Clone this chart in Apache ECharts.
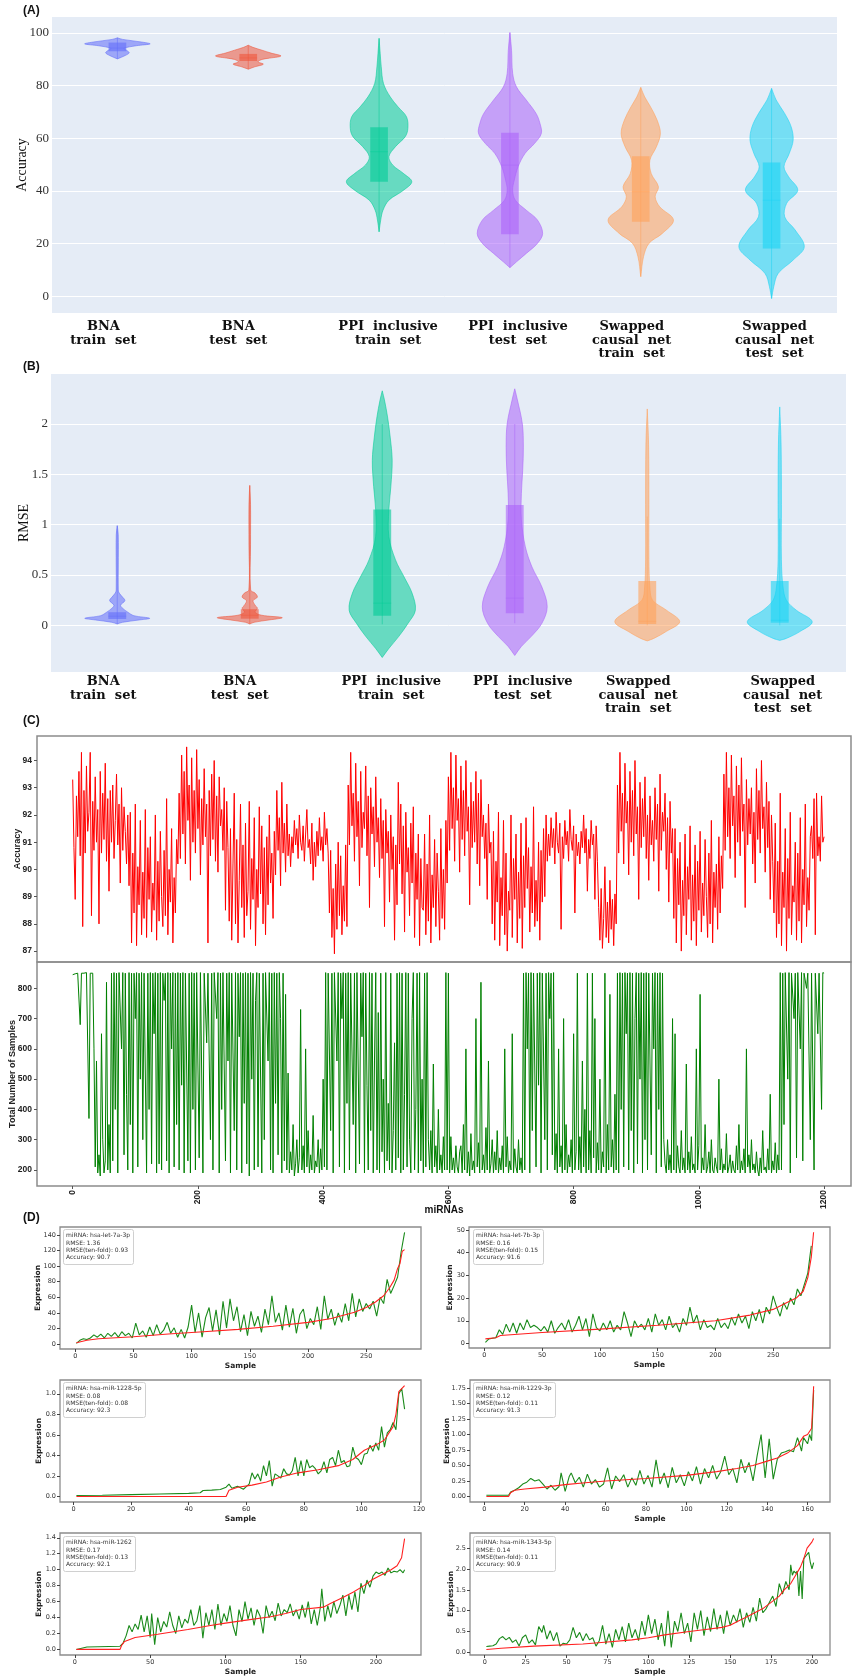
<!DOCTYPE html>
<html><head><meta charset="utf-8">
<script src="https://cdn.jsdelivr.net/npm/echarts@6/dist/echarts.min.js"></script>
<style>html,body{margin:0;padding:0;background:#fff}#chart{width:852px;height:1680px}</style>
</head><body><div id="chart"></div><script>
// ---------------- DATA ----------------
const groupLabels = ['BNA\ntrain  set','BNA\ntest  set','PPI  inclusive\ntrain  set','PPI  inclusive\ntest  set','Swapped\ncausal  net\ntrain  set','Swapped\ncausal  net\ntest  set'];

// Panel A violin density profiles: [accuracy, relative half width]
const accBNATrain = [[98.1,0],[97.5,0.08],[96.5,0.37],[95.8,0.50],[95.1,0.29],[94.1,0.10],[93.2,0.15],[92.4,0.18],[91.4,0.12],[90.1,0]];
const accBNATest = [[95.3,0],[94.5,0.07],[93.4,0.21],[92.3,0.35],[91.2,0.5],[90.3,0.3],[89.9,0.21],[89.0,0.15],[88.1,0.23],[87.1,0.1],[86.2,0]];
const accPPITrain = [[97.9,0],[92.2,0.017],[87.1,0.033],[80.8,0.067],[75.7,0.17],[71.9,0.29],[68.1,0.42],[63.7,0.44],[60.6,0.40],[56.8,0.25],[53,0.15],[49.8,0.21],[46.6,0.375],[43.5,0.5],[40.3,0.375],[36.5,0.15],[32.7,0.06],[29,0.025],[24.5,0]];
const accPPITest = [[100.1,0],[93.4,0.025],[84.6,0.042],[79.5,0.1],[74.5,0.25],[69.4,0.4],[65.6,0.46],[61.8,0.48],[58,0.375],[54.2,0.23],[49.2,0.125],[44.1,0.067],[40.3,0.042],[36.5,0.083],[32.7,0.25],[29,0.42],[23.9,0.5],[20.1,0.42],[16.3,0.25],[13.1,0.1],[10.9,0]];
const accSwTrain = [[79.3,0],[75.7,0.06],[71.9,0.15],[66.9,0.25],[61.8,0.3],[56.8,0.24],[51.7,0.14],[46.6,0.16],[41.6,0.27],[37.8,0.22],[34,0.29],[29,0.5],[23.9,0.33],[20.1,0.125],[15,0.042],[7.5,0]];
const accSwTest = [[78.9,0],[74.5,0.07],[69.4,0.2],[64.3,0.3],[59.3,0.33],[54.2,0.27],[49.2,0.19],[45.4,0.26],[40.3,0.4],[35.3,0.23],[30.2,0.2],[25.2,0.36],[18.8,0.5],[13.8,0.33],[8.7,0.1],[3.7,0.033],[-0.8,0]];
// [lower whisker, q1, median, q3, upper whisker]
const accBoxes = [[90.1,93.0,94.2,96.3,98.1],[86.2,89.3,90.5,92.0,95.3],[24.5,43.5,54.9,64.2,97.9],[10.9,23.6,49.8,62.1,100.1],[7.5,28.3,39.7,53.2,79.3],[-0.8,18.2,36.5,50.8,78.9]];

// Panel B violin density profiles: [RMSE, relative half width]
const rmseBNATrain = [[0.99,0],[0.9,0.015],[0.6,0.016],[0.35,0.016],[0.32,0.03],[0.28,0.08],[0.245,0.115],[0.2,0.05],[0.17,0.08],[0.13,0.16],[0.096,0.25],[0.07,0.49],[0.053,0.33],[0.03,0.08],[0.013,0]];
const rmseBNATest = [[1.39,0],[1.2,0.012],[0.8,0.012],[0.35,0.014],[0.32,0.08],[0.28,0.115],[0.245,0.05],[0.2,0.08],[0.17,0.115],[0.13,0.08],[0.1,0.18],[0.076,0.49],[0.053,0.29],[0.03,0.065],[0.013,0]];
const rmsePPITrain = [[2.33,0],[2.24,0.033],[2.07,0.08],[1.87,0.12],[1.64,0.15],[1.38,0.13],[1.15,0.1],[0.88,0.1],[0.65,0.2],[0.48,0.33],[0.32,0.45],[0.15,0.5],[0.02,0.39],[-0.11,0.25],[-0.23,0.1],[-0.32,0]];
const rmsePPITest = [[2.35,0],[2.24,0.04],[2.0,0.115],[1.77,0.13],[1.54,0.12],[1.31,0.1],[1.05,0.1],[0.78,0.16],[0.58,0.26],[0.38,0.41],[0.185,0.49],[0.02,0.41],[-0.11,0.25],[-0.21,0.1],[-0.30,0]];
const rmseSwTrain = [[2.15,0],[1.8,0.02],[1.2,0.025],[0.65,0.025],[0.38,0.04],[0.25,0.08],[0.15,0.29],[0.036,0.49],[-0.06,0.29],[-0.13,0.1],[-0.155,0]];
const rmseSwTest = [[2.17,0],[1.8,0.02],[1.2,0.025],[0.65,0.025],[0.38,0.05],[0.25,0.1],[0.15,0.25],[0.036,0.49],[-0.06,0.31],[-0.13,0.1],[-0.15,0]];
const rmseBoxes = [[0.013,0.063,0.09,0.13,0.99],[0.015,0.066,0.1,0.16,1.39],[0.01,0.096,0.22,1.15,2.0],[0.02,0.12,0.27,1.195,2.0],[0.0,0.013,0.04,0.44,1.08],[0.0,0.026,0.05,0.44,1.06]];

const accTicks = [0,20,40,60,80,100];
const rmseTicks = [0,0.5,1,1.5,2];

// Panel C: every 2nd miRNA (index 0..1200)
const stepC = 2;
const accuracyC = [
93.3,90.8,88.9,92.7,91.2,93.6,90.5,94.3,87.9,92.9,
90.6,93.8,91.4,92.1,94.3,88.3,92.5,90.7,93.4,91.0,
92.2,88.0,93.6,90.6,92.8,91.1,93.9,90.3,92.6,89.2,
92.9,91.0,93.1,90.4,91.8,93.5,90.9,92.4,89.5,93.0,
90.7,92.3,91.4,90.2,92.0,
89.4,92.1,87.3,90.6,88.4,92.4,87.2,90.1,88.7,91.8,
87.6,89.9,88.2,92.2,87.5,90.8,88.9,91.2,87.7,89.5,
88.5,92.0,87.4,90.3,88.1,91.4,89.0,87.9,90.7,88.3,
92.6,87.6,90.0,88.8,91.5,87.3,89.7,88.4,91.1,90.2,
92.8,90.4,94.2,91.3,93.6,90.2,94.5,91.8,93.1,89.6,
94.1,91.0,92.9,90.6,94.4,91.5,93.3,89.8,92.6,90.9,
93.7,91.2,92.4,87.3,92.9,90.5,93.5,91.1,94.0,90.3,
92.7,89.9,93.4,91.6,92.2,90.7,93.0,88.5,92.5,90.8,
88.1,91.5,87.4,90.2,92.8,88.0,91.1,87.3,89.6,92.4,
88.6,90.9,87.5,91.7,88.3,89.2,92.5,87.8,90.4,88.9,
91.9,87.2,90.0,88.6,92.3,89.1,91.6,88.0,90.8,87.6,
91.2,88.7,92.0,89.5,90.6,88.2,91.4,89.8,92.9,90.7,
91.9,89.4,93.2,90.6,91.7,89.9,92.4,90.5,91.3,90.1,
91.2,90.6,91.8,90.9,91.5,90.4,92.0,91.0,90.7,91.6,
90.3,91.3,92.2,90.8,91.1,90.2,91.7,89.6,91.0,90.1,
91.4,90.5,91.9,90.7,91.2,90.3,92.1,90.9,91.5,90.6,
88.4,90.7,87.5,89.3,86.9,90.2,87.8,91.0,88.3,90.5,
87.6,89.4,88.1,90.9,87.9,
93.1,90.9,94.3,91.6,92.8,90.3,93.9,91.2,92.5,89.4,
93.6,90.8,92.1,91.5,93.8,90.5,92.7,88.6,93.0,91.3,
92.3,90.1,93.4,91.0,91.9,89.7,92.6,90.4,91.8,87.9,
92.2,90.6,91.4,88.8,92.0,90.0,91.2,87.4,90.9,88.7,
93.2,90.2,92.4,89.1,91.6,87.7,92.1,89.9,90.8,88.3,
91.7,89.5,92.3,87.5,90.6,88.9,91.3,87.2,90.4,88.6,
88.5,91.3,87.6,90.2,88.1,92.0,87.3,89.8,88.6,91.1,
87.9,90.6,89.2,87.4,91.5,88.2,90.0,87.8,91.8,89.5,
93.4,90.7,94.3,91.5,93.0,90.3,94.2,91.8,92.6,89.9,
93.8,91.1,92.9,90.5,94.0,91.4,92.3,88.7,93.2,90.8,
92.5,91.0,93.6,90.2,92.8,89.4,93.3,91.2,92.0,90.4,
91.7,88.9,92.4,90.6,91.0,
88.0,91.4,87.4,90.3,88.8,92.1,87.2,89.7,88.3,91.8,
87.6,90.6,87.0,89.2,88.5,92.0,87.5,90.4,88.9,91.3,
87.3,89.9,88.2,91.7,87.1,90.5,88.6,91.9,89.3,90.8,
87.7,90.1,88.4,92.3,87.9,89.6,88.1,91.0,87.4,90.7,
88.8,91.5,89.0,92.0,90.3,
91.3,90.5,91.9,90.8,91.5,90.2,92.1,91.0,90.6,91.7,
87.8,91.2,90.4,91.8,90.9,91.4,90.3,92.2,91.1,90.7,
91.6,88.4,91.3,90.5,91.0,90.2,91.4,90.8,92.0,90.6,
91.5,89.2,91.1,90.4,91.8,90.9,91.3,88.9,91.6,90.3,
88.6,87.4,89.3,87.1,88.2,90.1,87.5,88.8,87.3,89.6,
87.8,88.9,87.2,89.1,88.0,
93.1,90.6,94.3,91.4,92.8,90.2,93.9,91.7,92.5,89.8,
93.6,91.0,92.9,90.5,94.0,91.3,92.3,88.9,93.2,90.8,
92.6,91.2,93.4,90.4,92.0,89.6,92.7,90.9,91.8,90.3,
93.0,91.1,92.4,89.2,93.5,90.7,92.1,91.4,92.8,90.0,
91.9,88.8,92.5,90.6,91.5,
88.2,91.5,87.3,90.4,88.7,91.0,87.0,89.6,88.3,91.3,
87.6,90.1,88.9,91.6,87.4,89.8,88.1,90.9,87.2,90.3,
88.5,91.4,87.7,89.5,88.3,91.1,89.0,87.5,90.6,88.0,
91.8,87.3,89.9,88.6,90.2,87.8,91.2,88.4,90.5,89.3,
93.5,90.7,94.3,91.2,93.0,90.4,94.2,91.6,92.7,89.7,
93.8,91.0,93.1,90.5,94.1,91.4,92.4,88.6,93.3,90.9,
92.6,91.3,93.0,90.2,92.1,89.5,93.7,91.1,92.9,90.6,
94.0,91.5,92.3,89.9,93.2,90.8,92.5,88.9,92.0,90.3,
88.4,91.7,87.5,90.3,88.0,92.8,87.2,89.9,88.6,91.5,
87.0,90.4,88.2,92.1,87.6,89.4,88.8,91.0,87.4,90.6,
88.1,91.9,87.3,90.0,88.7,92.4,87.9,89.7,88.5,91.2,
91.6,90.4,92.6,87.6,92.8,90.5,91.2,90.3,92.7,91.0,91.2];
const samplesC = [
845,850,848,852,850,850,680,850,852,850,
848,852,850,370,850,852,850,600,
210,560,190,250,180,650,300,190,230,820,200,350,190,
850,230,852,400,850,190,852,850,600,852,
250,850,450,200,852,350,850,190,850,700,
852,210,850,500,852,300,850,852,190,850,
400,852,220,850,650,852,190,
850,220,852,200,850,760,850,230,852,190,
850,600,852,210,850,350,852,200,850,480,
852,190,850,852,230,850,190,852,400,850,
200,852,
850,240,852,850,190,850,852,620,850,852,
300,850,200,852,850,700,852,190,850,400,
852,850,230,850,560,852,190,850,850,330,
852,200,850,640,852,190,850,420,852,220,
850,180,852,500,850,200,760,852,210,850,
852,190,850,300,852,850,560,852,200,850,
190,852,420,850,250,852,700,190,850,230,
780,200,520,
190,260,200,350,180,220,300,190,240,730,
200,280,190,600,210,330,190,250,200,380,
190,230,210,300,190,270,200,500,210,
852,200,850,852,330,850,190,852,850,560,
852,210,850,700,852,190,850,420,852,200,
850,852,350,850,190,852,
852,220,850,640,852,190,850,480,200,852,
330,850,190,560,852,200,720,190,850,260,
500,190,852,230,420,200,850,190,330,620,
200,850,240,852,190,850,200,450,852,210,
850,300,190,700,852,200,400,850,190,852,
230,500,190,850,210,852,300,
200,330,190,550,210,280,190,400,200,250,190,310,200,
852,200,850,190,310,200,240,190,280,210,190,260,
280,190,350,200,600,190,260,180,320,200,
230,190,700,210,290,190,820,200,250,190,
340,200,560,190,220,300,190,260,200,330,
190,240,200,280,190,600,210,310,190,230,
200,650,190,270,210,190,300,200,240,190,
850,200,852,600,850,190,852,330,850,852,
210,850,480,852,190,850,852,300,850,200,
852,700,850,250,852,
200,320,190,600,210,280,190,700,200,350,
190,250,210,300,190,650,200,260,
850,200,310,190,560,210,400,190,850,200,
330,190,850,240,700,190,290,200,500,190,
260,210,850,190,350,200,780,210,300,190,
450,200,
850,190,852,400,850,210,852,650,850,200,
852,330,850,190,700,852,220,850,500,852,
190,850,300,852,200,850,852,250,850,600,
852,190,850,400,852,210,850,300,
220,190,300,200,250,190,700,200,650,190,
280,210,190,330,200,240,190,550,200,260,
190,310,200,220,190,600,200,280,780,190,
240,200,350,190,210,260,190,300,200,190,
240,210,190,500,200,270,190,220,200,320,
190,210,250,190,230,200,190,280,200,350,
190,230,200,270,190,600,210,250,190,300,
200,220,190,260,200,180,240,190,330,200,
210,190,270,200,450,190,230,200,290,190,
250,200,
852,200,850,350,852,850,500,852,190,850,
852,700,850,240,852,850,600,852,230,850,
852,800,850,852,300,850,852,200,850,852,
650,850,852,400,852,850];
const ticksC = [0,200,400,600,800,1000,1200];
const accTicksC = [87,88,89,90,91,92,93,94];
const sampleTicksC = [200,300,400,500,600,700,800];

// Panel D
const mirnaNames = ['hsa-let-7a-3p','hsa-let-7b-3p','hsa-miR-1228-5p','hsa-miR-1229-3p','hsa-miR-1262','hsa-miR-1343-5p'];
const rmseD = ['1.36','0.16','0.08','0.12','0.17','0.14'];
const rmseTenFoldD = ['0.93','0.15','0.08','0.11','0.13','0.11'];
const accuracyD = ['90.7','91.6','92.3','91.3','92.1','90.9'];
// actual expression, every 3rd sample from sample 1
const stepD = 3;
const let7aActual = [1,5,7,6,8,12,9,13,8,14,10,15,9,16,11,14,8,27,12,17,9,22,11,25,13,18,28,14,21,9,19,8,22,50,15,40,9,34,47,17,44,12,55,21,58,30,48,16,38,11,42,23,36,15,45,25,62,28,40,18,50,22,46,14,38,45,20,33,25,48,19,62,32,45,24,40,28,52,30,65,35,58,42,52,45,55,36,60,52,83,65,75,86,118,143];
const let7aPred = [[1,2],[10,5],[20,7],[50,9.5],[80,13],[110,16],[140,19],[170,23],[200,28],[220,33],[240,41],[250,47],[258,54],[265,62],[270,72],[274,82],[277,97],[279,103],[281,119],[283,121]];
const let7bActual = [0.5,2,2.3,2.5,6,4,8.5,5,9,4.5,9,6,10.5,7,8,7,5.5,7.5,5,10,4.5,7,9,6,10.5,5,8,12,6,11,3,13,7,5.5,9,6,10,5,8,6,14,9,3,10,7,8.5,6,11,5,13,8,10.5,6,12,7,9,5,11,8,16,9,12.5,6,10.5,7,8,6,11,7,9,6.5,11.5,8,13,9,12,6.5,14,10,15,9,16,13,21,16,12,18,15,20,17,24,21,26,31,43];
const let7bPred = [[1,2],[10,2.5],[14,3.5],[50,4.8],[100,6.3],[150,8],[200,10],[230,12.5],[250,15],[262,18],[270,20],[276,23],[280,29],[283,38],[285,49]];
const mir1228Actual = [[1,0.01],[10,0.012],[20,0.018],[30,0.024],[40,0.03],[44,0.036],[45,0.058],[48,0.062],[51,0.068],[53,0.09],[54,0.12],[55,0.08],[56,0.09],[57,0.1],[58,0.085],[59,0.07],[60,0.095],[61,0.12],[62,0.23],[63,0.17],[64,0.22],[65,0.15],[66,0.3],[67,0.2],[68,0.35],[69,0.1],[70,0.22],[71,0.2],[72,0.18],[73,0.27],[74,0.22],[75,0.21],[76,0.25],[77,0.38],[78,0.2],[79,0.35],[80,0.2],[81,0.36],[82,0.28],[83,0.3],[84,0.27],[85,0.22],[86,0.25],[87,0.34],[88,0.23],[89,0.36],[90,0.38],[91,0.3],[92,0.45],[93,0.33],[94,0.35],[95,0.29],[96,0.3],[97,0.48],[98,0.38],[99,0.36],[100,0.31],[101,0.41],[102,0.42],[103,0.5],[104,0.44],[105,0.52],[106,0.45],[107,0.68],[108,0.48],[109,0.62],[110,0.65],[111,0.72],[112,0.65],[113,1.0],[114,1.05],[115,0.85]];
const mir1228Pred = [[1,0],[53,0],[54,0.06],[57,0.09],[62,0.11],[67,0.14],[72,0.19],[78,0.23],[85,0.26],[92,0.3],[97,0.36],[101,0.45],[105,0.5],[108,0.55],[111,0.68],[112,0.8],[113,1.02],[115,1.08]];
const mir1229Actual = [[1,0.02],[12,0.02],[13,0.07],[15,0.1],[17,0.14],[19,0.2],[21,0.23],[23,0.29],[25,0.25],[27,0.27],[29,0.2],[31,0.12],[33,0.18],[35,0.1],[37,0.16],[38,0.38],[40,0.08],[42,0.32],[43,0.38],[45,0.22],[47,0.31],[49,0.15],[51,0.36],[53,0.2],[55,0.27],[57,0.15],[59,0.2],[61,0.46],[63,0.12],[65,0.33],[67,0.24],[69,0.35],[71,0.15],[73,0.3],[75,0.18],[77,0.42],[79,0.2],[81,0.34],[83,0.15],[85,0.59],[87,0.2],[89,0.38],[91,0.14],[93,0.47],[95,0.22],[97,0.35],[99,0.17],[101,0.4],[103,0.25],[105,0.48],[107,0.2],[109,0.45],[111,0.3],[113,0.5],[115,0.28],[117,0.4],[119,0.65],[121,0.35],[123,0.45],[125,0.22],[127,0.6],[129,0.38],[131,0.55],[133,0.25],[135,0.65],[137,1.0],[139,0.3],[141,0.93],[143,0.28],[145,0.6],[147,0.7],[149,0.72],[151,0.75],[153,0.72],[155,0.95],[156,0.85],[157,0.73],[158,0.95],[160,0.85],[161,1.0],[162,0.9],[163,1.72]];
const mir1229Pred = [[1,0],[12,0],[13,0.06],[15,0.1],[20,0.12],[30,0.15],[40,0.19],[50,0.22],[60,0.25],[80,0.29],[100,0.34],[115,0.4],[125,0.45],[133,0.5],[140,0.57],[145,0.62],[150,0.7],[155,0.82],[158,0.97],[160,1.0],[162,1.1],[163,1.78]];
const mir1262Actual = [[1,0],[8,0.03],[30,0.04],[32,0.08],[34,0.17],[36,0.3],[38,0.22],[40,0.32],[42,0.25],[44,0.43],[46,0.22],[48,0.42],[50,0.15],[51,0.45],[53,0.06],[55,0.4],[57,0.22],[59,0.35],[61,0.28],[63,0.47],[65,0.3],[67,0.2],[69,0.42],[71,0.27],[73,0.38],[75,0.33],[77,0.5],[79,0.3],[81,0.36],[83,0.55],[85,0.14],[87,0.46],[89,0.3],[91,0.5],[93,0.25],[95,0.57],[97,0.3],[99,0.45],[101,0.35],[103,0.55],[105,0.3],[107,0.17],[109,0.5],[111,0.35],[113,0.6],[115,0.38],[117,0.52],[119,0.3],[121,0.5],[123,0.42],[125,0.2],[127,0.55],[129,0.4],[131,0.48],[133,0.36],[135,0.58],[137,0.42],[139,0.5],[141,0.46],[143,0.57],[145,0.42],[147,0.5],[149,0.38],[151,0.56],[153,0.4],[155,0.6],[157,0.32],[159,0.5],[161,0.3],[163,0.52],[164,0.76],[166,0.35],[168,0.55],[170,0.4],[172,0.6],[174,0.45],[176,0.55],[178,0.68],[180,0.42],[182,0.68],[184,0.5],[186,0.72],[188,0.47],[190,0.83],[192,0.7],[194,0.87],[196,0.78],[198,0.92],[200,0.97],[202,0.95],[204,0.97],[206,0.93],[208,1.02],[210,0.96],[212,0.98],[214,0.97],[216,1.0],[218,0.96],[219,1.0]];
const mir1262Pred = [[1,0],[30,0],[31,0.05],[33,0.1],[40,0.15],[55,0.19],[75,0.25],[90,0.3],[100,0.33],[115,0.37],[130,0.41],[140,0.45],[150,0.5],[165,0.53],[170,0.58],[178,0.65],[185,0.72],[192,0.8],[198,0.88],[205,0.95],[210,1.0],[214,1.05],[217,1.15],[219,1.39]];
const mir1343Actual = [[1,0.14],[3,0.15],[5,0.16],[7,0.2],[9,0.33],[11,0.38],[13,0.3],[15,0.36],[17,0.24],[19,0.3],[21,0.15],[23,0.35],[25,0.42],[27,0.22],[29,0.3],[31,0.18],[33,0.62],[35,0.48],[36,0.65],[38,0.32],[40,0.52],[42,0.28],[44,0.48],[46,0.15],[48,0.22],[50,0.2],[52,0.3],[54,0.6],[56,0.35],[58,0.48],[60,0.28],[62,0.45],[64,0.3],[66,0.35],[68,0.15],[70,0.28],[72,0.65],[74,0.2],[76,0.45],[78,0.12],[80,0.55],[82,0.3],[84,0.62],[86,0.25],[88,0.7],[90,0.35],[92,0.55],[94,0.28],[96,0.75],[98,0.4],[100,0.9],[102,0.45],[104,0.8],[106,0.3],[108,0.7],[110,0.15],[112,1.0],[114,0.12],[116,0.75],[118,0.5],[120,0.95],[122,0.45],[124,0.7],[126,0.25],[128,0.95],[130,0.55],[132,1.0],[134,0.4],[136,0.85],[138,0.5],[140,1.05],[142,0.55],[144,0.9],[146,0.45],[148,1.0],[150,0.65],[152,0.9],[154,0.72],[156,1.05],[158,0.6],[160,0.95],[162,0.72],[164,1.08],[166,0.75],[168,1.3],[170,0.95],[172,1.05],[174,1.2],[176,1.35],[178,1.1],[180,1.65],[182,1.4],[184,1.7],[186,1.5],[187,2.1],[188,1.85],[189,1.95],[190,1.9],[191,1.95],[192,1.35],[193,1.95],[194,1.28],[195,2.25],[196,2.3],[197,2.35],[198,2.4],[199,2.15],[200,2.0],[201,2.15]];
const mir1343Pred = [[1,0.07],[10,0.1],[30,0.15],[60,0.2],[75,0.25],[90,0.3],[100,0.35],[110,0.42],[125,0.5],[135,0.55],[145,0.6],[150,0.65],[155,0.75],[160,0.85],[165,0.95],[170,1.05],[175,1.2],[180,1.35],[183,1.5],[187,1.65],[190,1.85],[193,2.05],[195,2.25],[197,2.5],[200,2.65],[201,2.73]];
const xTicksD = [[0,50,100,150,200,250],[0,50,100,150,200,250],[0,20,40,60,80,100,120],[0,20,40,60,80,100,120,140,160],[0,50,100,150,200],[0,25,50,75,100,125,150,175,200]];
const yTicksD = [[0,20,40,60,80,100,120,140],[0,10,20,30,40,50],[0,0.2,0.4,0.6,0.8,1.0],[0,0.25,0.5,0.75,1.0,1.25,1.5,1.75],[0,0.2,0.4,0.6,0.8,1.0,1.2,1.4],[0,0.5,1.0,1.5,2.0,2.5]];
const yDecimalsD = [0,0,1,2,1,1];

// ---------------- LAYOUT / STYLE ----------------
const violinColors = ['#636EFA','#EF553B','#00CC96','#AB63FA','#FFA15A','#19D3F3'];
const labelShift = [-14, -10, 9, 8, -9, 3];
const chart = echarts.init(document.getElementById('chart'), null, {renderer: 'canvas'});
const serif = 'Liberation Serif';
const dsans = 'DejaVu Sans';

function violinRenderer(profiles, boxes) {
  return function (params, api) {
    const i = api.value(0);
    const prof = profiles[i];
    const col = violinColors[i];
    const half = api.size([1, 0])[0] / 2;
    const cx = api.coord([i, 0])[0];
    const right = prof.map(p => [cx + p[1] * half, api.coord([i, p[0]])[1]]);
    const left = prof.slice().reverse().map(p => [cx - p[1] * half, api.coord([i, p[0]])[1]]);
    const b = boxes[i];
    const yLo = api.coord([i, b[0]])[1], yQ1 = api.coord([i, b[1]])[1], yMed = api.coord([i, b[2]])[1], yQ3 = api.coord([i, b[3]])[1], yHi = api.coord([i, b[4]])[1];
    const bw = half * 0.27;
    return { type: 'group', children: [
      { type: 'polygon', shape: { points: right.concat(left), smooth: 0.35 }, style: { fill: col, opacity: 0.55, stroke: col, lineWidth: 1 } },
      { type: 'line', shape: { x1: cx, y1: yHi, x2: cx, y2: yLo }, style: { stroke: col, lineWidth: 1, opacity: 0.5 } },
      { type: 'rect', shape: { x: cx - bw / 2, y: yQ3, width: bw, height: yQ1 - yQ3 }, style: { fill: col, opacity: 0.6 } },
      { type: 'line', shape: { x1: cx - bw / 2, y1: yMed, x2: cx + bw / 2, y2: yMed }, style: { stroke: col, lineWidth: 1, opacity: 0.4 } }
    ]};
  };
}

const grids = [
  {left: 52, top: 17, width: 785, height: 296, show: true, backgroundColor: '#E5ECF6', borderWidth: 0},
  {left: 51, top: 374, width: 795, height: 298, show: true, backgroundColor: '#E5ECF6', borderWidth: 0},
  {left: 37, top: 736, width: 814, height: 226, show: true, borderColor: '#8c8c8c', borderWidth: 1.5},
  {left: 37, top: 962, width: 814, height: 224, show: true, borderColor: '#8c8c8c', borderWidth: 1.5},
  {left: 60, top: 1227, width: 361, height: 122, show: true, borderColor: '#8c8c8c', borderWidth: 1.3},
  {left: 469, top: 1227, width: 361, height: 121, show: true, borderColor: '#8c8c8c', borderWidth: 1.3},
  {left: 60, top: 1380, width: 361, height: 122, show: true, borderColor: '#8c8c8c', borderWidth: 1.3},
  {left: 470, top: 1380, width: 360, height: 122, show: true, borderColor: '#8c8c8c', borderWidth: 1.3},
  {left: 60, top: 1533, width: 361, height: 122, show: true, borderColor: '#8c8c8c', borderWidth: 1.3},
  {left: 470, top: 1533, width: 360, height: 122, show: true, borderColor: '#8c8c8c', borderWidth: 1.3}
].map(g => Object.assign({containLabel: false, outerBoundsMode: 'none'}, g));

const catFont = {fontFamily: 'DejaVu Serif', fontWeight: 'bold', fontSize: 13, color: '#111', lineHeight: 13.5};
const catRich = {};
labelShift.forEach((d, i) => { catRich['s' + i] = Object.assign({padding: d < 0 ? [0, -2 * d, 0, 0] : [0, 0, 0, 2 * d]}, catFont); });
const catLabel = m => Object.assign({margin: m, interval: 0, rich: catRich,
  formatter: (v, idx) => v.split('\n').map(line => '{s' + idx + '|' + line + '}').join('\n')}, catFont);
const hiddenLine = () => ({show: true, onZero: false, lineStyle: {color: 'rgba(0,0,0,0)', width: 0}});

const xAxes = [
  {type: 'category', gridIndex: 0, position: 'bottom', data: groupLabels, axisLine: {show: false}, axisTick: {show: false}, axisLabel: catLabel(7), splitLine: {show: false}},
  {type: 'category', gridIndex: 1, position: 'bottom', data: groupLabels, axisLine: {show: false}, axisTick: {show: false}, axisLabel: catLabel(3), splitLine: {show: false}},
  {type: 'value', gridIndex: 2, position: 'bottom', min: -57, max: 1243, axisLine: hiddenLine(), axisTick: {show: false}, axisLabel: {show: false}, splitLine: {show: false}},
  {type: 'value', gridIndex: 3, position: 'bottom', min: -57, max: 1243, axisLine: hiddenLine(),
   axisTick: {show: true, customValues: ticksC, length: 3, lineStyle: {color: '#555'}},
   axisLabel: {customValues: ticksC, rotate: 90, margin: 4, fontFamily: 'Liberation Sans', fontWeight: 'bold', fontSize: 8.5, color: '#222', formatter: v => String(v)},
   splitLine: {show: false}, name: 'miRNAs', nameLocation: 'middle', nameGap: 19, nameMoveOverlap: false,
   nameTextStyle: {fontFamily: 'Liberation Sans', fontWeight: 'bold', fontSize: 10, color: '#111'}}
];
const yAxes = [
  {type: 'value', gridIndex: 0, position: 'left', min: -6.3, max: 106, axisLine: {show: false},
   axisTick: {show: false, customValues: accTicks}, axisLabel: {customValues: accTicks, margin: 3, fontFamily: serif, fontSize: 13, color: '#333'},
   splitLine: {show: true, lineStyle: {color: '#ffffff', width: 1}},
   name: 'Accuracy', nameLocation: 'middle', nameGap: 23, nameMoveOverlap: false, nameTextStyle: {fontFamily: serif, fontSize: 14, color: '#111'}},
  {type: 'value', gridIndex: 1, position: 'left', min: -0.464, max: 2.497, axisLine: {show: false},
   axisTick: {show: false, customValues: rmseTicks}, axisLabel: {customValues: rmseTicks, margin: 3, fontFamily: serif, fontSize: 13, color: '#333'},
   splitLine: {show: true, lineStyle: {color: '#ffffff', width: 1}},
   name: 'RMSE', nameLocation: 'middle', nameGap: 20, nameMoveOverlap: false, nameTextStyle: {fontFamily: serif, fontSize: 14, color: '#111'}},
  {type: 'value', gridIndex: 2, position: 'left', min: 86.6, max: 94.9, axisLine: hiddenLine(),
   axisTick: {show: true, customValues: accTicksC, length: 3, lineStyle: {color: '#555'}},
   axisLabel: {customValues: accTicksC, margin: 5, fontFamily: 'Liberation Sans', fontWeight: 'bold', fontSize: 8.5, color: '#222'},
   splitLine: {show: false}, name: 'Accuracy', nameLocation: 'middle', nameGap: 15, nameMoveOverlap: false,
   nameTextStyle: {fontFamily: 'Liberation Sans', fontWeight: 'bold', fontSize: 9, color: '#222'}},
  {type: 'value', gridIndex: 3, position: 'left', min: 147, max: 887, axisLine: hiddenLine(),
   axisTick: {show: true, customValues: sampleTicksC, length: 3, lineStyle: {color: '#555'}},
   axisLabel: {customValues: sampleTicksC, margin: 5, fontFamily: 'Liberation Sans', fontWeight: 'bold', fontSize: 8.5, color: '#222'},
   splitLine: {show: false}, name: 'Total Number of Samples', nameLocation: 'middle', nameGap: 20, nameMoveOverlap: false,
   nameTextStyle: {fontFamily: 'Liberation Sans', fontWeight: 'bold', fontSize: 9, color: '#222'}}
];

const dXRanges = [[-13.1, 297.1],[-13.2, 299.2],[-4.7, 120.7],[-7.1, 171.1],[-9.9, 229.9],[-9, 211]];
const dYRanges = [[-6.1, 150],[-2, 51.3],[-0.054, 1.134],[-0.09, 1.88],[-0.07, 1.46],[-0.063, 2.863]];
const dNameGap = [18, 15, 17, 19, 17, 15];
const dActual = [
  let7aActual.map((v, i) => [1 + i * stepD, v]),
  let7bActual.map((v, i) => [1 + i * stepD, v]),
  mir1228Actual, mir1229Actual, mir1262Actual, mir1343Actual];
const dPred = [let7aPred, let7bPred, mir1228Pred, mir1229Pred, mir1262Pred, mir1343Pred];

for (let k = 0; k < 6; k++) {
  const g = 4 + k;
  const dec = yDecimalsD[k];
  xAxes.push({type: 'value', gridIndex: g, position: 'bottom', min: dXRanges[k][0], max: dXRanges[k][1], axisLine: hiddenLine(),
    axisTick: {show: true, customValues: xTicksD[k], length: 3, lineStyle: {color: '#444'}},
    axisLabel: {customValues: xTicksD[k], margin: 4, fontFamily: dsans, fontSize: 6.5, color: '#333'},
    splitLine: {show: false},
    name: 'Sample', nameLocation: 'middle', nameGap: 13, nameMoveOverlap: false, nameTextStyle: {fontFamily: dsans, fontWeight: 'bold', fontSize: 7.5, color: '#222'}});
  yAxes.push({type: 'value', gridIndex: g, position: 'left', min: dYRanges[k][0], max: dYRanges[k][1], axisLine: hiddenLine(),
    axisTick: {show: true, customValues: yTicksD[k], length: 3, lineStyle: {color: '#444'}},
    axisLabel: {customValues: yTicksD[k], margin: 4, fontFamily: dsans, fontSize: 6.5, color: '#333', formatter: v => Number(v).toFixed(dec)},
    splitLine: {show: false},
    name: 'Expression', nameLocation: 'middle', nameGap: dNameGap[k], nameMoveOverlap: false,
    nameTextStyle: {fontFamily: dsans, fontWeight: 'bold', fontSize: 7.5, color: '#222'}});
}

const series = [
  {type: 'custom', xAxisIndex: 0, yAxisIndex: 0, renderItem: violinRenderer([accBNATrain, accBNATest, accPPITrain, accPPITest, accSwTrain, accSwTest], accBoxes),
   data: groupLabels.map((_, i) => [i, 50]), encode: {x: 0, y: 1}, silent: true},
  {type: 'custom', xAxisIndex: 1, yAxisIndex: 1, renderItem: violinRenderer([rmseBNATrain, rmseBNATest, rmsePPITrain, rmsePPITest, rmseSwTrain, rmseSwTest], rmseBoxes),
   data: groupLabels.map((_, i) => [i, 1]), encode: {x: 0, y: 1}, silent: true},
  {type: 'line', xAxisIndex: 2, yAxisIndex: 2, data: accuracyC.map((v, i) => [i * stepC, v]), symbol: 'none',
   lineStyle: {color: '#ff0000', width: 1}, silent: true},
  {type: 'line', xAxisIndex: 3, yAxisIndex: 3, data: samplesC.map((v, i) => [i * stepC, v]), symbol: 'none',
   lineStyle: {color: '#008000', width: 1}, silent: true}
];
for (let k = 0; k < 6; k++) {
  series.push({type: 'line', xAxisIndex: 4 + k, yAxisIndex: 4 + k, data: dActual[k], symbol: 'none', lineStyle: {color: '#1a8a1a', width: 1.1}, silent: true});
  series.push({type: 'line', xAxisIndex: 4 + k, yAxisIndex: 4 + k, data: dPred[k], symbol: 'none', lineStyle: {color: '#ff2020', width: 1.1}, silent: true});
}

const panelLabel = (t, x, y) => ({text: t, left: x, top: y, padding: 0, textStyle: {fontFamily: 'Liberation Sans', fontWeight: 'bold', fontSize: 12, color: '#111'}});
const boxPos = [[63, 1229], [473, 1229], [63, 1382], [473, 1382], [63, 1536], [473, 1536]];
const titles = [panelLabel('(A)', 23, 5), panelLabel('(B)', 23, 361), panelLabel('(C)', 23, 715), panelLabel('(D)', 23, 1212)];
for (let k = 0; k < 6; k++) {
  titles.push({text: 'miRNA: ' + mirnaNames[k] + '\nRMSE: ' + rmseD[k] + '\nRMSE(ten-fold): ' + rmseTenFoldD[k] + '\nAccuracy: ' + accuracyD[k],
    left: boxPos[k][0], top: boxPos[k][1], padding: [3, 4, 3, 3], backgroundColor: '#ffffff', borderColor: '#d0d0d0', borderWidth: 1, borderRadius: 2,
    textStyle: {fontFamily: dsans, fontWeight: 'normal', fontSize: 6, lineHeight: 7.4, color: '#333'}});
}

chart.setOption({animation: false, backgroundColor: '#ffffff', title: titles, grid: grids, xAxis: xAxes, yAxis: yAxes, series: series});
</script></body></html>
